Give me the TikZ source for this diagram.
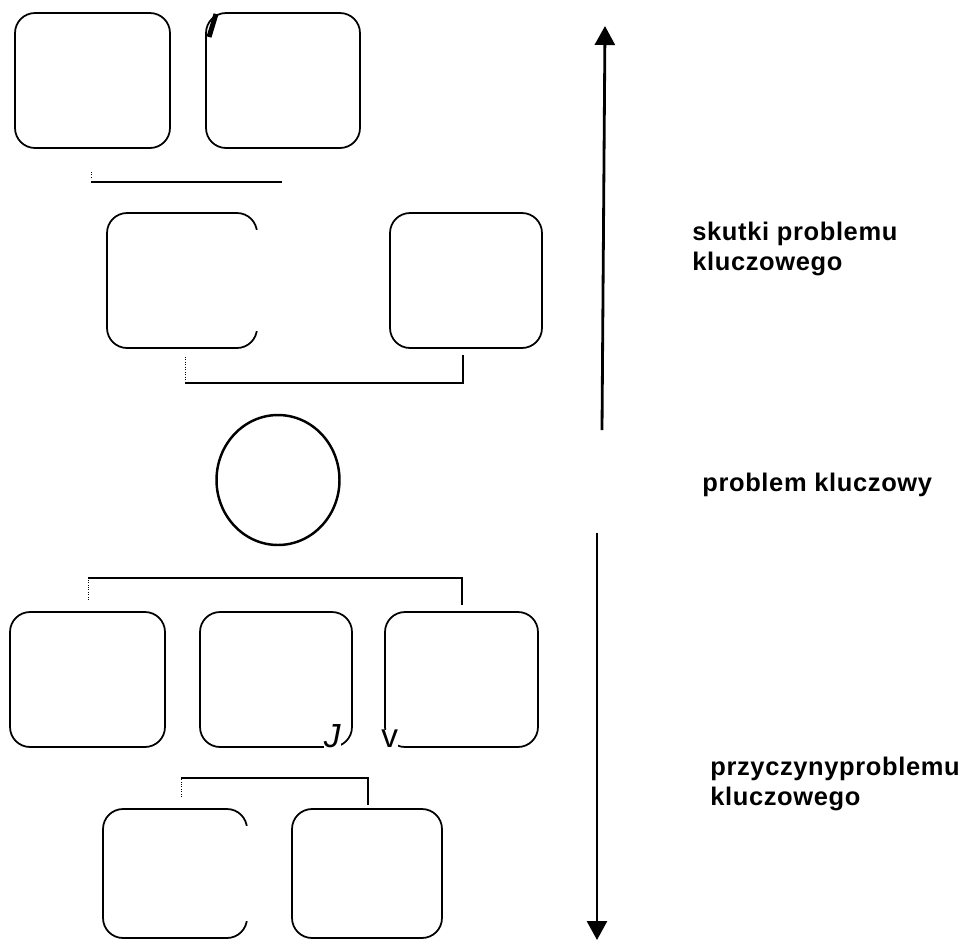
\documentclass[tikz,border=0pt]{standalone}
\usepackage{fontspec}
\setmainfont{Liberation Sans}
\newfontfamily\lblfont[LetterSpace=2.5]{Liberation Sans}
\usetikzlibrary{arrows.meta,shapes.geometric}
\tikzset{
    card/.style={draw, rounded corners=0.4cm, line width=1pt, inner sep=0pt},
    lbl/.style={anchor=base west, inner sep=0pt, font=\lblfont\bfseries\fontsize{14.5}{17}\selectfont},
    scrap/.style={inner sep=0pt, font=\fontsize{19}{21}\selectfont},
    bar/.style={line width=1.2pt},
    axis/.style={line width=1.6pt, -{Triangle[length=0.38cm,width=0.4cm]}}
}
\begin{document}
\begin{tikzpicture}[x=0.02cm, y=-0.02cm]
        \useasboundingbox (0,0) rectangle (974,941);
        % skutki
        \node[card, minimum width=3.1cm, minimum height=2.7cm] (effA) at (92.5,80.5) {};
        \node[card, minimum width=3.08cm, minimum height=2.7cm] (effB) at (283,80.5) {};
        \draw[line width=0.1cm] (209,37) -- (216,14);
        \node[card, minimum width=3cm, minimum height=2.7cm] (effC) at (182,280.5) {};
        \draw[white, line width=3pt] (257,230) -- (257,331);
        \node[card, minimum width=3.04cm, minimum height=2.7cm] (effD) at (466,280.5) {};
        % problem kluczowy
        \node[draw, ellipse, line width=1.4pt, minimum width=2.46cm, minimum height=2.6cm] (core) at (278,480) {};
        % przyczyny
        \node[card, minimum width=3.1cm, minimum height=2.7cm] (causeA) at (87.5,679.5) {};
        \node[card, minimum width=3.04cm, minimum height=2.7cm] (causeB) at (276,679.5) {};
        \node[card, minimum width=3.06cm, minimum height=2.7cm] (causeC) at (461.5,679.5) {};
        \node[scrap, fill=white, anchor=south east, font=\itshape\fontsize{19}{21}\selectfont] (jj) at (341,748) {J};
        \node[scrap, fill=white, anchor=south west] (vv) at (381,748) {v};
        \node[card, minimum width=2.88cm, minimum height=2.58cm] (causeD) at (175,873.5) {};
        \draw[white, line width=3pt] (247,826) -- (247,921);
        \node[card, minimum width=3cm, minimum height=2.58cm] (causeE) at (367,873.5) {};
        % polaczenia
        \coordinate (t1a) at (91,182);
        \coordinate (t1b) at (282,182);
        \draw[bar] (t1a) -- (t1b);
        \draw[densely dotted] (91,172) -- (91,177);
        \coordinate (t2a) at (185,357);
        \coordinate (t2b) at (463,355);
        \draw[bar] (t2a |- 0,383) -- (t2b |- 0,383) -- (t2b);
        \draw[densely dotted] (t2a) -- (t2a |- 0,383);
        \coordinate (t3a) at (88,600);
        \coordinate (t3b) at (462,605);
        \draw[bar] (t3a |- 0,578) -- (t3b |- 0,578) -- (t3b);
        \draw[densely dotted] (t3a) -- (t3a |- 0,578);
        \coordinate (t4a) at (181,797);
        \coordinate (t4b) at (368,805);
        \draw[bar] (t4a |- 0,778) -- (t4b |- 0,778) -- (t4b);
        \draw[densely dotted] (t4a) -- (t4a |- 0,778);
        % strzalki
        \coordinate (up0) at (602,430);
        \coordinate (up1) at (605,26);
        \draw[axis] (up0) -- (up1);
        \coordinate (dn0) at (597,533);
        \coordinate (dn1) at (597,940);
        \draw[axis] (dn0) -- (dn1);
        % opisy
        \node[lbl] (eff1) at (692,240) {skutki problemu};
        \node[lbl] (eff2) at (692,270) {kluczowego};
        \node[lbl] (core1) at (702,491) {problem kluczowy};
        \node[lbl] (cause1) at (710,775) {przyczynyproblemu};
        \node[lbl] (cause2) at (710,805) {kluczowego};
    \end{tikzpicture}
\end{document}
